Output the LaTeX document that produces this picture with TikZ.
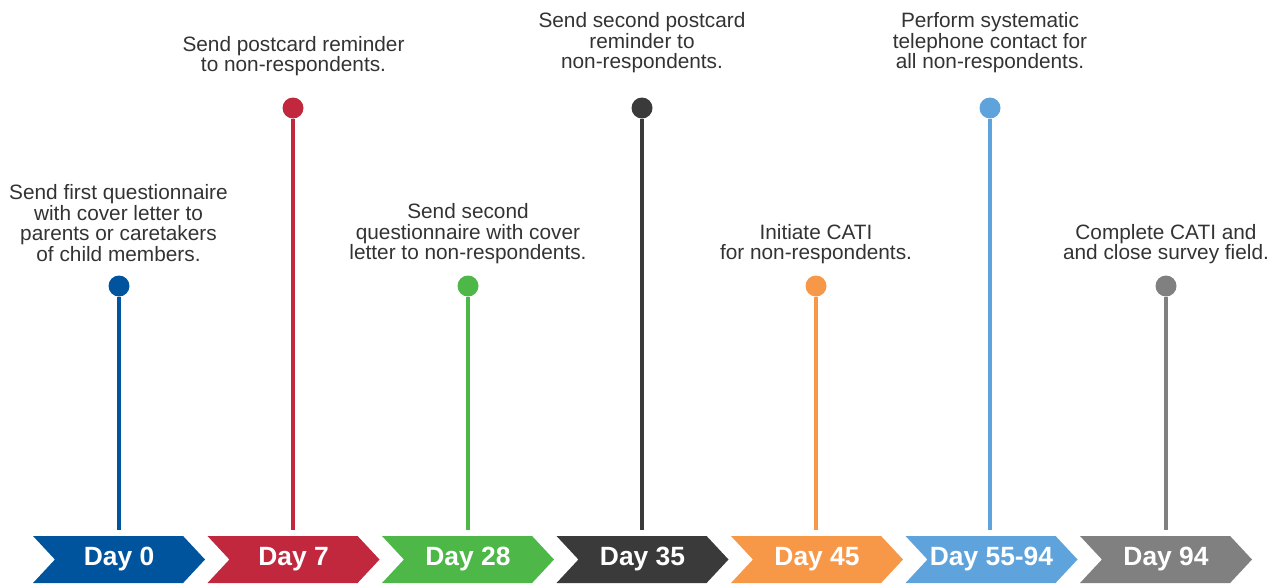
\documentclass[tikz,border=0pt]{standalone}
\usepackage{fontspec}
\setmainfont{Liberation Sans}
\usetikzlibrary{shapes.symbols}
\definecolor{dayblue}{RGB}{0,84,158}
\definecolor{dayred}{RGB}{193,39,61}
\definecolor{daygreen}{RGB}{77,184,72}
\definecolor{daydark}{RGB}{58,58,58}
\definecolor{dayorange}{RGB}{247,152,72}
\definecolor{daysky}{RGB}{94,163,220}
\definecolor{daygray}{RGB}{128,128,128}
\begin{document}
\begin{tikzpicture}[
		x=0.75pt, y=-0.75pt,
		chevron/.style = {signal, signal to=east, signal from=west, signal pointer angle=94,
				minimum width=129pt, minimum height=35.25pt, inner sep=0pt, fill=#1,
				text=white, font=\bfseries\fontsize{19.8}{20}\selectfont},
		pin/.style = {circle, fill=#1, minimum size=15.75pt, inner sep=0pt},
		stem/.style = {line width=3.4pt, draw=#1},
		note/.style = {align=center, text=black!80, font=\fontsize{15.6}{15.4}\selectfont},
	]
	\path[use as bounding box] (0,0) rectangle (1275,583);
	% chevrons along the bottom
	\node[chevron=dayblue]   (c0)  at (119,559.5)  {Day 0};
	\node[chevron=dayred]    (c7)  at (293.5,559.5) {Day 7};
	\node[chevron=daygreen]  (c28) at (468,559.5)  {Day 28};
	\node[chevron=daydark]   (c35) at (642.5,559.5) {Day 35};
	\node[chevron=dayorange] (c45) at (817,559.5)  {Day 45};
	\node[chevron=daysky]    (c55) at (991.5,559.5) {Day 55-94};
	\node[chevron=daygray]   (c94) at (1166,559.5) {Day 94};
	% pins
	\node[pin=dayblue]   (p0)  at (119,286)  {};
	\node[pin=dayred]    (p7)  at (293,108)  {};
	\node[pin=daygreen]  (p28) at (468,286)  {};
	\node[pin=daydark]   (p35) at (642,108)  {};
	\node[pin=dayorange] (p45) at (816,286)  {};
	\node[pin=daysky]    (p55) at (990,108)  {};
	\node[pin=daygray]   (p94) at (1166,286) {};
	\draw[stem=dayblue]   (p0)  -- ([yshift=4.5pt]p0 |- c0.north);
	\draw[stem=dayred]    (p7)  -- ([yshift=4.5pt]p7 |- c7.north);
	\draw[stem=daygreen]  (p28) -- ([yshift=4.5pt]p28 |- c28.north);
	\draw[stem=daydark]   (p35) -- ([yshift=4.5pt]p35 |- c35.north);
	\draw[stem=dayorange] (p45) -- ([yshift=4.5pt]p45 |- c45.north);
	\draw[stem=daysky]    (p55) -- ([yshift=4.5pt]p55 |- c55.north);
	\draw[stem=daygray]   (p94) -- ([yshift=4.5pt]p94 |- c94.north);
	% notes
	\node[note] (n0)  at (118.5,223) {Send first questionnaire\\with cover letter to\\parents or caretakers\\of child members.};
	\node[note] (n7)  at (293.5,56)  {Send postcard reminder\\to non-respondents.};
	\node[note] (n28) at (468,234)   {Send second\\questionnaire with cover\\letter to non-respondents.};
	\node[note] (n35) at (642,43)    {Send second postcard\\reminder to\\non-respondents.};
	\node[note] (n45) at (816,244)   {Initiate CATI\\for non-respondents.};
	\node[note] (n55) at (990,43)    {Perform systematic\\telephone contact for\\all non-respondents.};
	\node[note] (n94) at (1166,244)  {Complete CATI and\\and close survey field.};
\end{tikzpicture}
\end{document}
